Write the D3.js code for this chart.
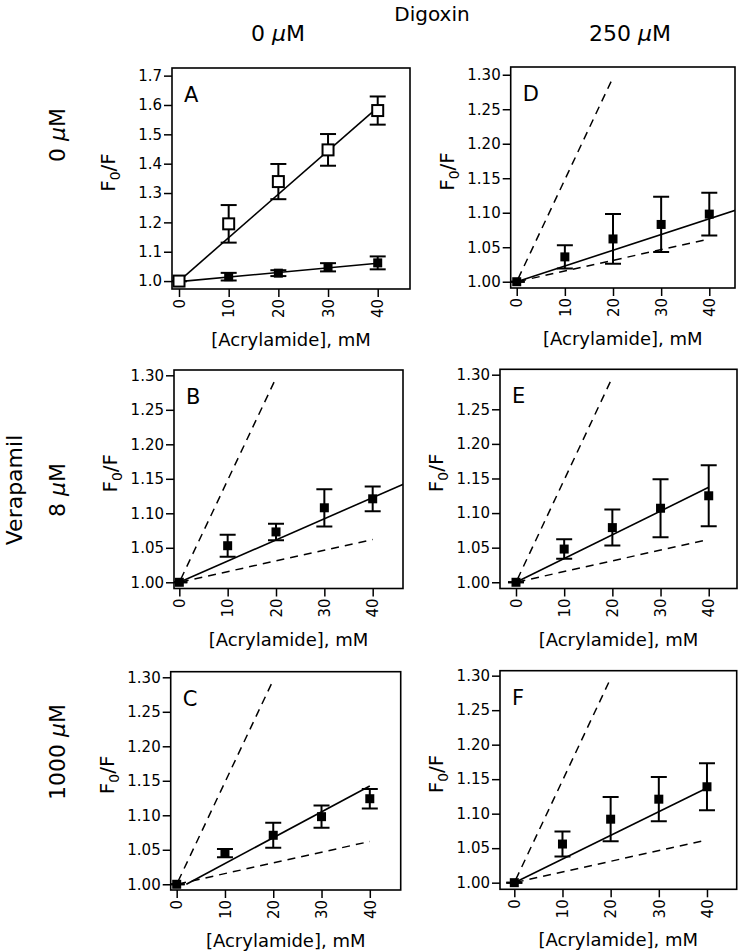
<!DOCTYPE html>
<html>
<head>
<meta charset="utf-8">
<script src="https://cdn.jsdelivr.net/npm/d3@7"></script>
<style>
  body { margin: 0; background: #fff; }
  svg { font-family: "DejaVu Sans", sans-serif; }
</style>
</head>
<body>
<svg width="741" height="952"></svg>
<script>
// acrylamide concentrations, mM
var conc = [0, 10, 20, 30, 40];
var xTicks = [0, 10, 20, 30, 40];
var yTicksA = [1.0, 1.1, 1.2, 1.3, 1.4, 1.5, 1.6, 1.7];
var yTicksRest = [1.00, 1.05, 1.10, 1.15, 1.20, 1.25, 1.30];

// F0/F means and error bars
var aOpenMean = [1.000, 1.195, 1.339, 1.447, 1.581];
var aOpenErr = [0, 0.064, 0.060, 0.054, 0.048];
var aFilledMean = [1.000, 1.015, 1.027, 1.047, 1.062];
var aFilledErr = [0, 0.013, 0.010, 0.014, 0.022];
var bMean = [1.000, 1.053, 1.073, 1.108, 1.121];
var bErr = [0, 0.016, 0.012, 0.027, 0.018];
var cMean = [1.000, 1.045, 1.071, 1.098, 1.124];
var cErr = [0, 0.006, 0.018, 0.016, 0.014];
var dMean = [1.000, 1.036, 1.062, 1.083, 1.098];
var dErr = [0, 0.017, 0.036, 0.040, 0.031];
var eMean = [1.000, 1.048, 1.079, 1.107, 1.125];
var eErr = [0, 0.014, 0.026, 0.042, 0.044];
var fMean = [1.000, 1.056, 1.092, 1.121, 1.139];
var fErr = [0, 0.018, 0.032, 0.032, 0.034];

// linear fits: [intercept, slope, xStart, xEnd]
var fitAOpen = [1.000, 0.0148, 0, 40];
var fitAFilled = [0.998, 0.00157, 0, 40];
var fitB = [1.000, 0.00307, 0, 47];
var fitC = [0.9925, 0.00375, 2, 40];
var fitD = [1.000, 0.00228, 0, 47];
var fitE = [1.000, 0.00343, 0, 40];
var fitF = [1.000, 0.00343, 0, 40];
// reference fits from panel A shown dashed in B-F
var refSteep = [1.000, 0.0148, 0.3, 19.6];
var refShallow = [1.000, 0.00155, 0.3, 40];

var svg = d3.select("svg");

var panels = [
  {id: "A", l: 172, r: 410, t: 68, b: 289, xd: [-1.41, 46.5], yd: [0.973, 1.726], ticks: yTicksA, fmt: ".1f",
    series: [{m: aFilledMean, e: aFilledErr, open: false}, {m: aOpenMean, e: aOpenErr, open: true}],
    fits: [fitAFilled, fitAOpen], refs: []},
  {id: "B", l: 174, r: 403, t: 370, b: 588.5, xd: [-1.1, 46.27], yd: [0.991, 1.3077], ticks: yTicksRest, fmt: ".2f",
    series: [{m: bMean, e: bErr, open: false}], fits: [fitB], refs: [refSteep, refShallow]},
  {id: "C", l: 170.7, r: 400.7, t: 671.7, b: 890, xd: [-1.24, 46.4], yd: [0.9917, 1.3081], ticks: yTicksRest, fmt: ".2f",
    series: [{m: cMean, e: cErr, open: false}], fits: [fitC], refs: [refSteep, refShallow]},
  {id: "D", l: 510.7, r: 735, t: 67, b: 288, xd: [-1.25, 45.34], yd: [0.9909, 1.3112], ticks: yTicksRest, fmt: ".2f",
    series: [{m: dMean, e: dErr, open: false}], fits: [fitD], refs: [refSteep, refShallow]},
  {id: "E", l: 500, r: 737, t: 369.3, b: 588.5, xd: [-3.32, 45.87], yd: [0.991, 1.3078], ticks: yTicksRest, fmt: ".2f",
    series: [{m: eMean, e: eErr, open: false}], fits: [fitE], refs: [refSteep, refShallow]},
  {id: "F", l: 500, r: 736.7, t: 670.7, b: 889.3, xd: [-2.97, 46.17], yd: [0.9904, 1.3072], ticks: yTicksRest, fmt: ".2f",
    series: [{m: fMean, e: fErr, open: false}], fits: [fitF], refs: [refSteep, refShallow]}
];

var defs = svg.append("defs");

panels.forEach(function (p) {
  var x = d3.scaleLinear().domain(p.xd).range([p.l, p.r]);
  var y = d3.scaleLinear().domain(p.yd).range([p.b, p.t]);
  var g = svg.append("g").attr("class", "panel-" + p.id);

  defs.append("clipPath").attr("id", "clip-" + p.id)
    .append("rect")
    .attr("x", p.l).attr("y", p.t)
    .attr("width", p.r - p.l).attr("height", p.b - p.t);

  var plot = g.append("g").attr("clip-path", "url(#clip-" + p.id + ")");

  var lineOf = function (f) {
    return [[f[2], f[0] + f[1] * f[2]], [f[3], f[0] + f[1] * f[3]]];
  };
  var line = d3.line().x(function (d) { return x(d[0]); }).y(function (d) { return y(d[1]); });

  plot.selectAll("path.ref")
    .data(p.refs)
    .enter().append("path")
    .attr("class", "ref")
    .attr("d", function (f) { return line(lineOf(f)); })
    .attr("fill", "none")
    .attr("stroke", "#000")
    .attr("stroke-width", 1.5)
    .attr("stroke-dasharray", "8,6");

  plot.selectAll("path.fit")
    .data(p.fits)
    .enter().append("path")
    .attr("class", "fit")
    .attr("d", function (f) { return line(lineOf(f)); })
    .attr("fill", "none")
    .attr("stroke", "#000")
    .attr("stroke-width", 1.6);

  p.series.forEach(function (s) {
    var pts = conc.map(function (c, i) { return {c: c, m: s.m[i], e: s.e[i]}; });
    var cap = 8;
    var eb = plot.append("g").selectAll("g").data(pts).enter().append("g");
    eb.append("line")
      .attr("x1", function (d) { return x(d.c); }).attr("x2", function (d) { return x(d.c); })
      .attr("y1", function (d) { return y(d.m - d.e); }).attr("y2", function (d) { return y(d.m + d.e); })
      .attr("stroke", "#000").attr("stroke-width", 2);
    [-1, 1].forEach(function (sgn) {
      eb.append("line")
        .attr("x1", function (d) { return x(d.c) - cap; }).attr("x2", function (d) { return x(d.c) + cap; })
        .attr("y1", function (d) { return y(d.m + sgn * d.e); }).attr("y2", function (d) { return y(d.m + sgn * d.e); })
        .attr("stroke", "#000").attr("stroke-width", 2);
    });
    var sz = s.open ? 11 : 9;
    plot.append("g").selectAll("rect").data(pts).enter().append("rect")
      .attr("x", function (d) { return x(d.c) - sz / 2; })
      .attr("y", function (d) { return y(d.m) - sz / 2; })
      .attr("width", sz).attr("height", sz)
      .attr("fill", s.open ? "#fff" : "#000")
      .attr("stroke", "#000")
      .attr("stroke-width", s.open ? 2 : 0);
  });

  g.append("rect")
    .attr("x", p.l).attr("y", p.t)
    .attr("width", p.r - p.l).attr("height", p.b - p.t)
    .attr("fill", "none").attr("stroke", "#000").attr("stroke-width", 1.6);

  var ya = g.append("g")
    .attr("transform", "translate(" + p.l + ",0)")
    .call(d3.axisLeft(y).tickValues(p.ticks).tickFormat(d3.format(p.fmt)).tickSize(8).tickPadding(2));
  ya.select(".domain").remove();
  ya.selectAll("line").attr("stroke-width", 1.5);
  ya.selectAll("text").attr("font-size", 15).attr("font-family", "DejaVu Sans").attr("fill", "#000");

  var xa = g.append("g")
    .attr("transform", "translate(0," + p.b + ")")
    .call(d3.axisBottom(x).tickValues(xTicks).tickSize(8));
  xa.select(".domain").remove();
  xa.selectAll("line").attr("stroke-width", 1.5);
  xa.selectAll("text")
    .attr("font-size", 15).attr("font-family", "DejaVu Sans").attr("fill", "#000")
    .attr("transform", "rotate(-90)")
    .attr("text-anchor", "end")
    .attr("x", -10).attr("y", 0).attr("dy", "0.35em");

  g.append("text")
    .attr("x", (p.l + p.r) / 2).attr("y", p.b + 57)
    .attr("text-anchor", "middle")
    .attr("font-size", 18)
    .text("[Acrylamide], mM");

  var yl = g.append("text")
    .attr("transform", "translate(" + (p.l - 57) + "," + ((p.t + p.b) / 2 - 6) + ") rotate(-90)")
    .attr("text-anchor", "middle")
    .attr("font-size", 20);
  yl.append("tspan").text("F");
  yl.append("tspan").attr("font-size", 14).attr("dy", 5).text("0");
  yl.append("tspan").attr("dy", -5).text("/F");

  g.append("text")
    .attr("x", p.l + 12).attr("y", p.t + 34)
    .attr("font-size", 21)
    .text(p.id);
});

// column and row titles
var colTitles = [{t: "0 ", x: 278}, {t: "250 ", x: 630}];
svg.append("text").attr("x", 432).attr("y", 21).attr("text-anchor", "middle").attr("font-size", 20).text("Digoxin");
colTitles.forEach(function (c) {
  var t = svg.append("text").attr("x", c.x).attr("y", 41).attr("text-anchor", "middle").attr("font-size", 22);
  t.append("tspan").text(c.t);
  t.append("tspan").attr("font-style", "italic").text("\u03bc");
  t.append("tspan").text("M");
});

var rowTitles = [{t: "0 ", y: 135}, {t: "8 ", y: 490}, {t: "1000 ", y: 752}];
rowTitles.forEach(function (r) {
  var t = svg.append("text")
    .attr("transform", "translate(65," + r.y + ") rotate(-90)")
    .attr("text-anchor", "middle").attr("font-size", 22);
  t.append("tspan").text(r.t);
  t.append("tspan").attr("font-style", "italic").text("\u03bc");
  t.append("tspan").text("M");
});
svg.append("text")
  .attr("transform", "translate(22,490) rotate(-90)")
  .attr("text-anchor", "middle").attr("font-size", 22)
  .text("Verapamil");
</script>
</body>
</html>
